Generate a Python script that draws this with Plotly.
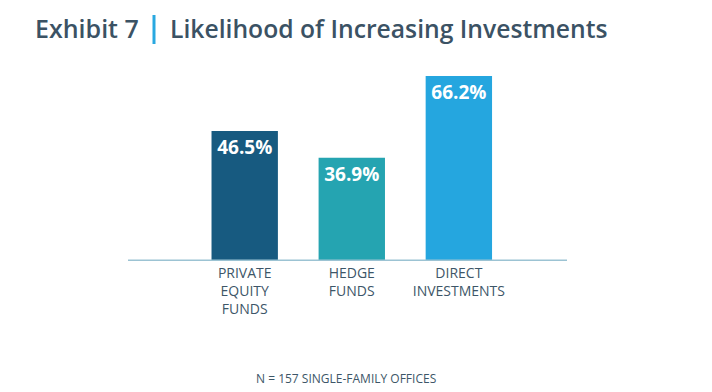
import plotly.graph_objects as go

categories = ["PRIVATE<br>EQUITY<br>FUNDS", "HEDGE<br>FUNDS", "DIRECT<br>INVESTMENTS"]
values = [46.5, 36.9, 66.2]
labels = ["46.5%", "36.9%", "66.2%"]
colors = ["#175a80", "#25a4b1", "#25a6df"]

OFF = 8  # page body margin offset
W, H = 712 - OFF, 392 - OFF
L, R, T, B = 128 - OFF, 145, 60 - OFF, 131

x_pos = [0, 1, 2]

fig = go.Figure()
fig.add_trace(go.Bar(
    x=x_pos, y=values, width=0.62,
    marker=dict(color=colors, line=dict(width=0)),
    text=labels, textposition="inside", insidetextanchor="end",
    textfont=dict(color="white", size=19, family="Open Sans", weight=700),
    textangle=0,
))

fig.update_layout(
    width=W, height=H,
    margin=dict(l=L, r=R, t=T, b=B, pad=0),
    paper_bgcolor="white", plot_bgcolor="white",
    showlegend=False,
    xaxis=dict(range=[-1.09, 3.01], tickvals=x_pos, ticktext=categories,
               showgrid=False, zeroline=False, showline=False, ticks="",
               ticklabelstandoff=2,
               tickfont=dict(family="Open Sans", size=14, color="#3d5668")),
    yaxis=dict(range=[0, 71.9], visible=False, showgrid=False, zeroline=False),
    font=dict(family="Open Sans"),
)

fig.add_shape(type="line", xref="paper", yref="y", x0=0, x1=1, y0=0, y1=0,
              line=dict(color="#9cc3d3", width=3))

def px_x(p):
    return (p - OFF - L) / (W - L - R)
def px_y(p):
    return (H - B - (p - OFF)) / (H - T - B)

fig.add_annotation(text="Exhibit 7", xref="paper", yref="paper",
                   x=px_x(33), y=px_y(28), xanchor="left", yanchor="middle",
                   showarrow=False,
                   font=dict(family="Open Sans", size=25, color="#3b5264", weight=600))
fig.add_shape(type="line", xref="paper", yref="paper",
              x0=px_x(154), x1=px_x(154), y0=px_y(15), y1=px_y(44),
              line=dict(color="#29a8e0", width=3))
fig.add_annotation(text="Likelihood of Increasing Investments", xref="paper", yref="paper",
                   x=px_x(168), y=px_y(28), xanchor="left", yanchor="middle",
                   showarrow=False,
                   font=dict(family="Open Sans", size=24.7, color="#3b5264", weight=600))

fig.add_annotation(text="N = 157 SINGLE-FAMILY OFFICES", xref="paper", yref="paper",
                   x=px_x(346), y=px_y(378), xanchor="center", yanchor="middle",
                   showarrow=False,
                   font=dict(family="Open Sans", size=12, color="#3d5668"))

fig.write_html("out.html")
